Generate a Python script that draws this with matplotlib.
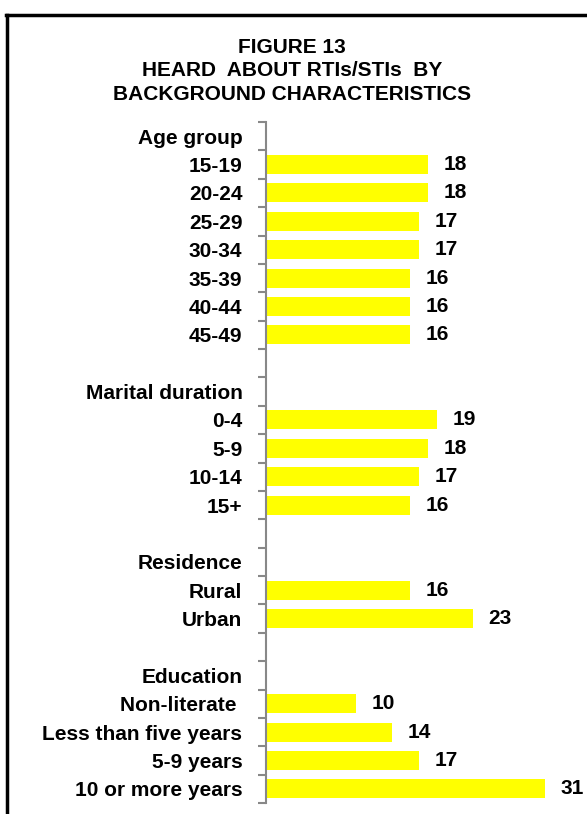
import numpy as np
import matplotlib
matplotlib.use("Agg")
from matplotlib import pyplot as plt
from matplotlib.lines import Line2D

plt.rcParams['font.family'] = ['Liberation Sans', 'DejaVu Sans']

# rows from top to bottom; None = header / spacer (no bar)
labels = ["Age group", "15-19", "20-24", "25-29", "30-34", "35-39", "40-44", "45-49",
          "", "Marital duration", "0-4", "5-9", "10-14", "15+",
          "", "Residence", "Rural", "Urban",
          "", "Education", "Non-literate ", "Less than five years", "5-9 years", "10 or more years"]
values = [None, 18, 18, 17, 17, 16, 16, 16,
          None, None, 19, 18, 17, 16,
          None, None, 16, 23,
          None, None, 10, 14, 17, 31]

W, H = 587, 814
fig = plt.figure(figsize=(W / 100, H / 100), dpi=100)

# frame (only top and left edge visible in the crop)
fig.add_artist(Line2D([6 / W, 1.0], [1 - 15 / H, 1 - 15 / H], color="black", lw=2.5,
                      transform=fig.transFigure))
fig.add_artist(Line2D([7 / W, 7 / W], [1 - 15 / H, 0.0], color="black", lw=2.5,
                      transform=fig.transFigure))

fig.text(292 / W, 1 - 71 / H, "FIGURE 13\nHEARD  ABOUT RTIs/STIs  BY\nBACKGROUND CHARACTERISTICS",
         ha="center", va="center", fontsize=15, fontweight="bold", linespacing=1.32)

ax = fig.add_axes([266 / W, 1 - 803 / H, 1 - 266 / W, (803 - 122) / H])
n = len(labels)
y = np.arange(n)
for i, v in enumerate(values):
    if v is None:
        continue
    ax.barh(i, v, height=0.67, color="#FFFF00", edgecolor="none")
    ax.annotate(str(v), (v, i), xytext=(11, 0), textcoords="offset points",
                ha="left", va="center", fontsize=15, fontweight="bold")

ax.set_xlim(0, (W - 266) / 9.0)
ax.set_ylim(n - 0.5, -0.5)
ax.set_yticks(y)
ax.set_yticklabels(labels, fontsize=15, fontweight="bold")
ax.set_yticks(np.arange(n + 1) - 0.5, minor=True)
ax.tick_params(axis="y", which="major", length=0, pad=17)
ax.tick_params(axis="y", which="minor", length=6, width=1.5, color="#888888")
ax.set_xticks([])
for s in ["top", "right", "bottom"]:
    ax.spines[s].set_visible(False)
ax.spines["left"].set_color("#888888")
ax.spines["left"].set_linewidth(1.5)

fig.savefig("out.png", dpi=100)
